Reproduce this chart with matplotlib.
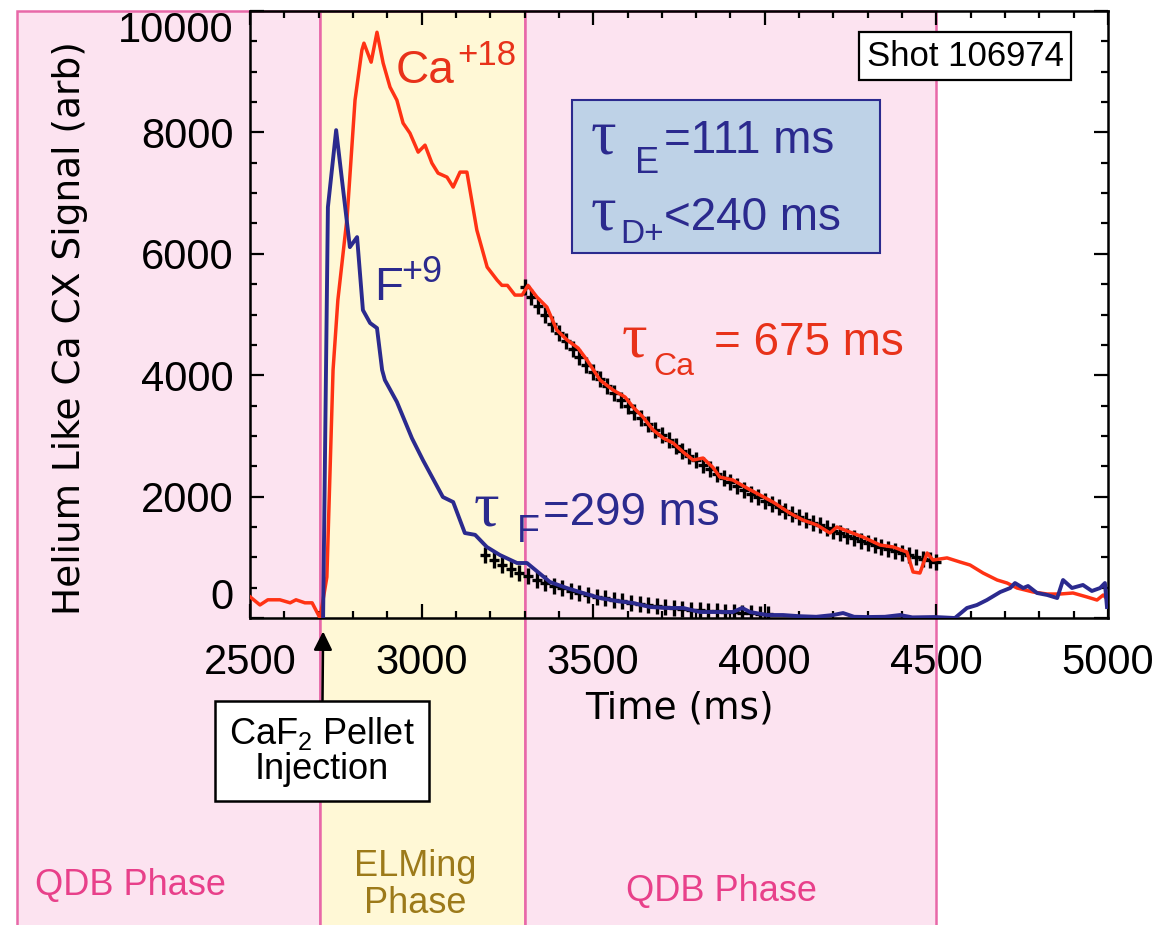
import numpy as np
import matplotlib
matplotlib.use('Agg')
import matplotlib.pyplot as plt
from matplotlib.patches import Rectangle
from matplotlib.path import Path
from matplotlib.ticker import MultipleLocator
from matplotlib.transforms import blended_transform_factory

plt.rcParams['font.family'] = ['Liberation Sans', 'DejaVu Sans']
plt.rcParams['mathtext.fontset'] = 'custom'
plt.rcParams['mathtext.rm'] = 'Liberation Sans'
plt.rcParams['mathtext.it'] = 'Liberation Sans:italic'
plt.rcParams['mathtext.bf'] = 'Liberation Sans:bold'

# Ca+18 signal (red)
ca_t = [2500, 2529, 2552, 2587, 2617, 2634, 2660, 2681, 2704, 2724, 2742, 2756,
        2783, 2806, 2826, 2832, 2853, 2870, 2888, 2908, 2928, 2946, 2966, 2990,
        3010, 3030, 3048, 3074, 3092, 3112, 3132, 3161, 3191, 3220, 3234, 3250,
        3272, 3293, 3310, 3336, 3365, 3394, 3424, 3456, 3482, 3520, 3558, 3593,
        3616, 3645, 3675, 3704, 3733, 3762, 3791, 3820, 3849, 3869, 3907, 3948,
        3986, 4024, 4073, 4111, 4152, 4190, 4210, 4248, 4286, 4336, 4374, 4414,
        4432, 4452, 4473, 4490, 4531, 4569, 4598, 4636, 4677, 4706, 4735, 4782,
        4823, 4860, 4898, 4939, 4968, 4986, 5000]
ca_v = [350, 215, 300, 300, 250, 300, 250, 250, 0, 675, 4085, 5237,
        6605, 8531, 9355, 9470, 9157, 9650, 9141, 8746, 8531, 8153, 7988, 7675,
        7790, 7494, 7329, 7263, 7099, 7346, 7346, 6390, 5781, 5567, 5480, 5480,
        5320, 5320, 5480, 5287, 5122, 4743, 4579, 4447, 4249, 3920, 3755, 3640,
        3475, 3310, 3096, 2965, 2882, 2734, 2602, 2635, 2480, 2322, 2273, 2141,
        2026, 1910, 1729, 1614, 1532, 1400, 1499, 1416, 1334, 1202, 1170, 1087,
        758, 741, 1071, 955, 990, 922, 873, 741, 626, 576, 494, 428,
        395, 395, 412, 346, 296, 379, 300]

# F+9 signal (blue)
f_t = [2713, 2727, 2751, 2791, 2812, 2829, 2850, 2870, 2885, 2893, 2928, 2972,
       3004, 3062, 3092, 3126, 3156, 3190, 3228, 3278, 3307, 3374, 3423, 3470,
       3520, 3569, 3616, 3666, 3715, 3762, 3811, 3861, 3907, 3934, 3957, 4006,
       4053, 4100, 4150, 4199, 4228, 4260, 4298, 4350, 4394, 4430, 4496, 4554,
       4589, 4618, 4647, 4686, 4715, 4729, 4753, 4767, 4793, 4823, 4852, 4869,
       4895, 4927, 4953, 4977, 4991, 4997]
f_v = [0, 6769, 8037, 6110, 6275, 5073, 4859, 4776, 4085, 3920, 3560, 2960,
       2600, 1993, 1910, 1400, 1370, 1170, 1038, 906, 906, 593, 494, 412,
       329, 280, 247, 181, 165, 165, 99, 99, 99, 165, 99, 49,
       49, 30, 20, 49, 82, 20, 16, 20, 49, 10, 16, 0,
       165, 214, 296, 428, 494, 576, 494, 527, 412, 379, 329, 626,
       494, 544, 445, 494, 576, 181]

# exponential fit points (black +)
ca_fit_t = [3300, 3320, 3340, 3360, 3380, 3400, 3420, 3440, 3460, 3480, 3500,
            3520, 3540, 3560, 3580, 3600, 3620, 3640, 3660, 3680, 3700,
            3720, 3740, 3760, 3780, 3800, 3820, 3840, 3860, 3880, 3900,
            3920, 3940, 3960, 3980, 4000, 4020, 4040, 4060, 4080, 4100,
            4120, 4140, 4160, 4180, 4200, 4220, 4240, 4260, 4280, 4300,
            4320, 4340, 4360, 4380, 4400, 4420, 4440, 4460, 4480, 4500]
ca_fit_v = [5450, 5291, 5136, 4986, 4841, 4699, 4562, 4429, 4300, 4174, 4052,
            3934, 3819, 3708, 3599, 3494, 3392, 3293, 3197, 3104, 3013,
            2925, 2840, 2757, 2676, 2598, 2522, 2449, 2377, 2308, 2240,
            2175, 2111, 2050, 1990, 1932, 1876, 1821, 1768, 1716, 1666,
            1617, 1570, 1524, 1480, 1437, 1395, 1354, 1315, 1276, 1239,
            1203, 1168, 1134, 1100, 1068, 1037, 1007, 977, 949, 921]
f_fit_t = [3185, 3210, 3235, 3260, 3285, 3310, 3335, 3360, 3385, 3410, 3435,
           3460, 3485, 3510, 3535, 3560, 3585, 3610, 3635, 3660, 3685,
           3710, 3735, 3760, 3785, 3810, 3835, 3860, 3885, 3910, 3935,
           3960, 3985, 4010]
f_fit_v = [1040, 957, 880, 809, 744, 685, 630, 579, 533, 490, 451,
           415, 381, 351, 323, 297, 273, 251, 231, 212, 195,
           180, 165, 152, 140, 129, 118, 109, 100, 92, 85,
           78, 72, 66]

# plasma phases
phase_start = [1820, 2705, 3300]
phase_end = [2705, 3300, 4500]
phase_color = ['#fce3f0', '#fff8d6', '#fce3f0']

red = '#ff3214'
red_txt = '#e8321a'
navy = '#2b2a8e'
pink_edge = '#e868a8'

W, H = 1174, 925
fig = plt.figure(figsize=(W / 100, H / 100), dpi=100)
ax = fig.add_axes([250 / W, 1 - 618 / H, 858 / W, 607 / H])
ax.set_xlim(2500, 5000)
ax.set_ylim(0, 10000)
bt = blended_transform_factory(ax.transData, ax.transAxes)

for x0, x1, c in zip(phase_start, phase_end, phase_color):
    ax.add_patch(Rectangle((x0, -0.51), x1 - x0, 1.51, transform=bt,
                           fc=c, ec=pink_edge, lw=1.8, clip_on=False, zorder=0.5))

# tall plus marker
plus = Path([(-0.65, 0), (0.65, 0), (0, -1), (0, 1)],
            [Path.MOVETO, Path.LINETO, Path.MOVETO, Path.LINETO])
ax.plot(ca_fit_t, ca_fit_v, ls='none', marker=plus, ms=12, mew=2.4,
        color='black', zorder=2)
ax.plot(f_fit_t, f_fit_v, ls='none', marker=plus, ms=12, mew=2.4,
        color='black', zorder=2)
ax.plot(ca_t, ca_v, color=red, lw=2.5, zorder=3)
ax.plot(f_t, f_v, color=navy, lw=2.8, zorder=3)

ax.xaxis.set_major_locator(MultipleLocator(500))
ax.xaxis.set_minor_locator(MultipleLocator(100))
ax.yaxis.set_major_locator(MultipleLocator(2000))
ax.yaxis.set_minor_locator(MultipleLocator(500))
ax.tick_params(which='both', direction='in', top=True, right=True, width=1.6)
ax.tick_params(which='major', length=10, labelsize=30)
ax.tick_params(which='minor', length=5)
ax.tick_params(axis='x', pad=18)
ax.tick_params(axis='y', pad=12)
for s in ax.spines.values():
    s.set_linewidth(1.8)
fig.canvas.draw()
for tk in ax.yaxis.get_major_ticks():
    if tk.get_loc() == 0:
        tk.label1.set_verticalalignment('bottom')
    elif tk.get_loc() == 10000:
        tk.label1.set_verticalalignment('top')

ax.set_xlabel('Time (ms)', fontsize=27, family='DejaVu Sans', va='top')
ax.xaxis.set_label_coords(0.5, (618 - 690) / 607)
ax.set_ylabel('Helium Like Ca CX Signal (arb)', fontsize=27,
              family='DejaVu Sans')
ax.yaxis.set_label_coords((88 - 250) / 858, (618 - 328) / 607)


def ftxt(px, py, s, size, color, family='Liberation Sans'):
    fig.text(px / W, 1 - py / H, s, fontsize=size, color=color, family=family,
             ha='left', va='baseline', zorder=6)


ftxt(396, 83, 'Ca', 33, red_txt)
ftxt(457, 65, '+18', 25, red_txt)
ftxt(374, 300, 'F', 34, navy)
ftxt(401, 282, '+9', 26, navy)

ftxt(622, 356, '\u03c4', 46, red_txt, 'Liberation Serif')
ftxt(653, 375, 'Ca', 23, red_txt)
ftxt(714, 355, '= 675 ms', 33, red_txt)

ftxt(474, 526, '\u03c4', 46, navy, 'Liberation Serif')
ftxt(517, 542, 'F', 27, navy)
ftxt(543, 525, '=299 ms', 33, navy)

ax.add_patch(Rectangle(((572 - 250) / 858, (618 - 253) / 607), 308 / 858, 153 / 607,
                       transform=ax.transAxes, fc='#bed2e7', ec=navy, lw=1.5,
                       zorder=4))
ftxt(591, 153, '\u03c4', 46, navy, 'Liberation Serif')
ftxt(635, 173, 'E', 26, navy)
ftxt(664, 153, '=111 ms', 33, navy)
ftxt(591, 230, '\u03c4', 46, navy, 'Liberation Serif')
ftxt(620, 243, 'D+', 24, navy)
ftxt(664, 230, '<240 ms', 33, navy)

ax.text((965 - 250) / 858, (618 - 56) / 607, 'Shot 106974', fontsize=25,
        ha='center', va='center', transform=ax.transAxes, zorder=5,
        bbox=dict(boxstyle='square,pad=0.22', fc='white', ec='black', lw=1.6))

ax.annotate('CaF$_2$ Pellet\nInjection', xy=(2713, -0.022), xycoords=bt,
            xytext=(2710, -0.219), textcoords=bt, ha='center', va='center',
            fontsize=26, annotation_clip=False, zorder=6, linespacing=1.0,
            bbox=dict(boxstyle='square,pad=0.38', fc='white', ec='black', lw=1.8),
            arrowprops=dict(arrowstyle='-|>', color='black', lw=1.8,
                            mutation_scale=28, shrinkA=0, shrinkB=0))

ax.text((35 - 250) / 858, (618 - 885) / 607, 'QDB Phase', color='#e8408a',
        fontsize=26, transform=ax.transAxes, ha='left', va='center')
ax.text(2981, (618 - 885) / 607, 'ELMing\nPhase', color='#9c7a1a', fontsize=26,
        transform=bt, ha='center', va='center', linespacing=1.1)
ax.text(3875, (618 - 892) / 607, 'QDB Phase', color='#e8408a', fontsize=26,
        transform=bt, ha='center', va='center')

fig.savefig('out.png', dpi=100)
